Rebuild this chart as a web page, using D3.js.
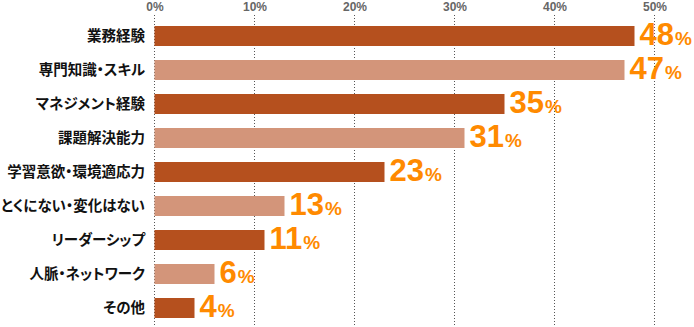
<!DOCTYPE html>
<html><head><meta charset="utf-8">
<script src="https://cdn.jsdelivr.net/npm/d3@7"></script>
<style>
html,body{margin:0;padding:0;background:#fff;}
svg{display:block;}
.cat{font-feature-settings:"palt" 1;}
</style></head>
<body>
<svg id="chart" width="694" height="327"></svg>
<script>
const categories = ["業務経験","専門知識・スキル","マネジメント経験","課題解決能力","学習意欲・環境適応力","とくにない・変化はない","リーダーシップ","人脈・ネットワーク","その他"];
const values = [48,47,35,31,23,13,11,6,4];
const tickValues = [0,10,20,30,40,50];
const tickLabels = ["0%","10%","20%","30%","40%","50%"];
const barColors = ["#b5501e","#d3957a"];

const svg = d3.select("#chart");
const x = d3.scaleLinear().domain([0,50]).range([154.5,654.5]);
const y = d3.scaleBand().domain(categories).range([19,325]).paddingInner(14/34).paddingOuter(7/34);

// gridlines
svg.append("g").selectAll("line").data(tickValues).join("line")
  .attr("x1", d=>x(d)).attr("x2", d=>x(d))
  .attr("y1", 15).attr("y2", 327)
  .attr("stroke","#555").attr("stroke-width",1).attr("stroke-dasharray","1,2");

// top axis labels
const xAxis = d3.axisTop(x).tickValues(tickValues).tickFormat((d,i)=>tickLabels[i]).tickSize(0).tickPadding(0);
const ax = svg.append("g").attr("transform","translate(0,11)").call(xAxis);
ax.select(".domain").remove();
ax.selectAll("text").attr("fill","#666").attr("font-family","'Liberation Sans', Arial, sans-serif")
  .attr("font-weight","bold").attr("font-size","12px").attr("dy","0");

// bars
svg.append("g").selectAll("rect").data(values).join("rect")
  .attr("x", x(0))
  .attr("y", (d,i)=>y(categories[i]))
  .attr("width", d=>x(d)-x(0))
  .attr("height", y.bandwidth())
  .attr("fill", (d,i)=>barColors[i%2]);

// category labels
svg.append("g").selectAll("text").data(categories).join("text")
  .attr("class","cat")
  .attr("x", 145)
  .attr("y", d=>y(d)+y.bandwidth()/2)
  .attr("dy","0.36em")
  .attr("text-anchor","end")
  .attr("font-family","'Noto Sans CJK JP', sans-serif")
  .attr("font-weight","bold")
  .attr("font-size","14.5px")
  .attr("fill","#111")
  .text(d=>d);

// value labels
const vl = svg.append("g").selectAll("text").data(values).join("text")
  .attr("x", d=>x(d)+5)
  .attr("y", (d,i)=>y(categories[i])+y.bandwidth()-1)
  .attr("font-family","'Liberation Sans', Arial, sans-serif")
  .attr("font-weight","bold")
  .attr("fill","#ff8a00");
vl.append("tspan").attr("font-size","31px").text(d=>d);
vl.append("tspan").attr("font-size","19px").attr("dx","1").text("%");
</script>
</body></html>
